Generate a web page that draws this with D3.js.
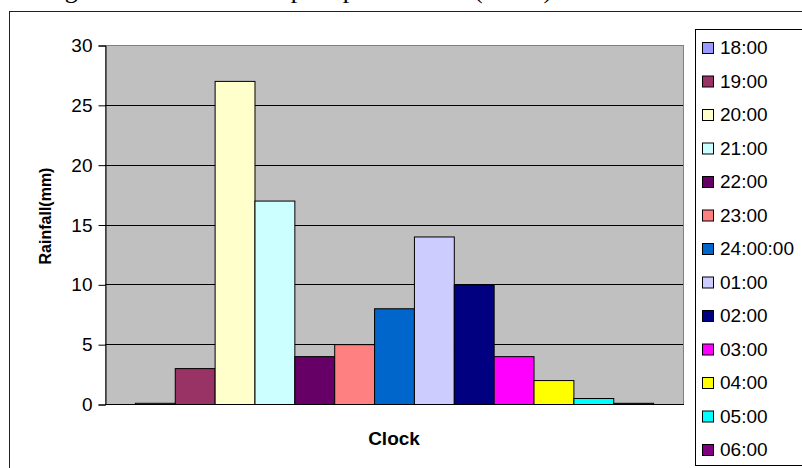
<!DOCTYPE html>
<html>
<head>
<meta charset="utf-8">
<script src="https://cdn.jsdelivr.net/npm/d3@7"></script>
<style>
  html, body { margin: 0; padding: 0; background: #fff; }
  svg { display: block; }
</style>
</head>
<body>
<svg id="chart" width="802" height="468"></svg>
<script>
// Hourly rainfall, one bar per clock hour
const hours = ["18:00", "19:00", "20:00", "21:00", "22:00", "23:00", "24:00:00",
               "01:00", "02:00", "03:00", "04:00", "05:00", "06:00"];
const rainfall = [0.1, 3, 27, 17, 4, 5, 8, 14, 10, 4, 2, 0.5, 0.1];
const hourColors = ["#9999FF", "#993366", "#FFFFCC", "#CCFFFF", "#660066", "#FF8080", "#0066CC",
                    "#CCCCFF", "#000080", "#FF00FF", "#FFFF00", "#00FFFF", "#800080"];
const yTicks = [0, 5, 10, 15, 20, 25, 30];
const captionText = "Figure 3 Time series of precipitation rate (mm/h)";

const svg = d3.select("#chart");
const plot = { left: 105, right: 683, top: 45, bottom: 404 };

// caption line above the chart frame (runs off the page top)
svg.append("text")
  .attr("x", 43).attr("y", -2)
  .attr("font-family", "'Liberation Serif', 'Times New Roman', serif")
  .attr("font-size", 26)
  .attr("fill", "#000")
  .text(captionText);

// chart frame
svg.append("rect")
  .attr("x", 9.5).attr("y", 11.5)
  .attr("width", 820).attr("height", 480)
  .attr("fill", "#fff").attr("stroke", "#222").attr("stroke-width", 1);

const x = d3.scaleBand()
  .domain(hours)
  .range([plot.left, plot.right])
  .paddingInner(0)
  .paddingOuter(0.75);

const y = d3.scaleLinear()
  .domain([0, 30])
  .range([plot.bottom, plot.top]);

// plot area
svg.append("rect")
  .attr("x", plot.left + 0.5).attr("y", plot.top + 0.5)
  .attr("width", plot.right - plot.left).attr("height", plot.bottom - plot.top)
  .attr("fill", "#C0C0C0").attr("stroke", "#808080").attr("stroke-width", 1);

// horizontal gridlines
svg.append("g")
  .selectAll("line")
  .data(yTicks.filter(t => t > 0 && t < 30))
  .join("line")
  .attr("x1", plot.left).attr("x2", plot.right)
  .attr("y1", d => Math.round(y(d)) + 0.5).attr("y2", d => Math.round(y(d)) + 0.5)
  .attr("stroke", "#000").attr("stroke-width", 1);

// bars
svg.append("g")
  .selectAll("rect")
  .data(hours)
  .join("rect")
  .attr("x", d => x(d) + 0.5)
  .attr("width", x.bandwidth())
  .attr("y", (d, i) => y(rainfall[i]) + 0.5)
  .attr("height", (d, i) => y(0) - y(rainfall[i]))
  .attr("fill", (d, i) => hourColors[i])
  .attr("stroke", "#000").attr("stroke-width", 1);

// y axis
const yAxis = d3.axisLeft(y)
  .tickValues(yTicks)
  .tickSize(7)
  .tickPadding(6)
  .tickFormat(d3.format("d"));
const yg = svg.append("g")
  .attr("transform", `translate(${plot.left + 0.5},0.5)`)
  .call(yAxis);
yg.select(".domain").attr("stroke", "#000");
yg.selectAll(".tick line").attr("stroke", "#000");
yg.selectAll(".tick text")
  .attr("font-family", "Arial, 'Liberation Sans', sans-serif")
  .attr("font-size", 19)
  .attr("fill", "#000");

// category axis baseline
svg.append("line")
  .attr("x1", plot.left).attr("x2", plot.right + 1)
  .attr("y1", plot.bottom + 0.5).attr("y2", plot.bottom + 0.5)
  .attr("stroke", "#000").attr("stroke-width", 1);

// axis titles
svg.append("text")
  .attr("transform", "translate(51,216) rotate(-90)")
  .attr("text-anchor", "middle")
  .attr("font-family", "Arial, 'Liberation Sans', sans-serif")
  .attr("font-size", 16).attr("font-weight", "bold")
  .text("Rainfall(mm)");

svg.append("text")
  .attr("x", (plot.left + plot.right) / 2).attr("y", 445)
  .attr("text-anchor", "middle")
  .attr("font-family", "Arial, 'Liberation Sans', sans-serif")
  .attr("font-size", 19).attr("font-weight", "bold")
  .text("Clock");

// legend
svg.append("rect")
  .attr("x", 695.5).attr("y", 29.5)
  .attr("width", 120).attr("height", 436)
  .attr("fill", "#fff").attr("stroke", "#000").attr("stroke-width", 1);

const ly = d3.scalePoint().domain(hours).range([54, 456]);
const items = svg.append("g")
  .selectAll("g")
  .data(hours)
  .join("g")
  .attr("transform", d => `translate(0,${ly(d)})`);
items.append("rect")
  .attr("x", 702.5).attr("y", -11.5)
  .attr("width", 11).attr("height", 11)
  .attr("fill", (d, i) => hourColors[i])
  .attr("stroke", "#000").attr("stroke-width", 1);
items.append("text")
  .attr("x", 720).attr("y", 0)
  .attr("font-family", "Arial, 'Liberation Sans', sans-serif")
  .attr("font-size", 19)
  .attr("fill", "#000")
  .text(d => d);
</script>
</body>
</html>
